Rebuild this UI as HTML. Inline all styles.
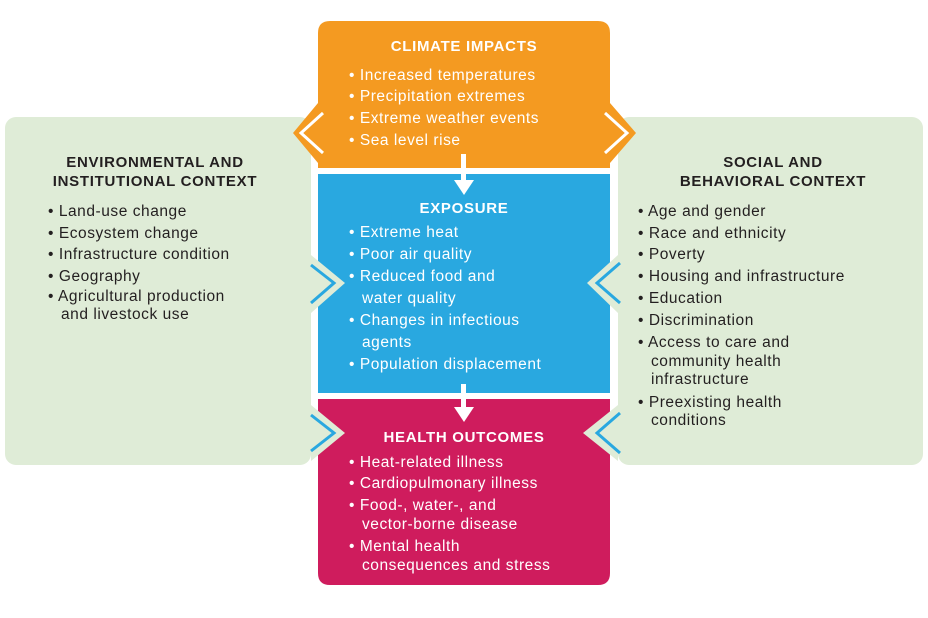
<!DOCTYPE html>
<html><head><meta charset="utf-8"><style>
html,body{margin:0;padding:0;background:#fff;}
svg{display:block;}
text{font-family:"Liberation Sans",sans-serif;}
.h{font-weight:bold;font-size:15px;letter-spacing:0.7px;}
.b{font-size:15.5px;letter-spacing:0.55px;}
.d{fill:#231f20;}
.w{fill:#fff;}
</style></head><body>
<svg width="928" height="618" viewBox="0 0 928 618" xmlns="http://www.w3.org/2000/svg">
<rect x="5" y="117" width="306" height="348" rx="11" fill="#dfecd7"/>
<rect x="618" y="117" width="305" height="348" rx="11" fill="#dfecd7"/>
<path d="M330 21 H598 Q610 21 610 33 V103 L636 133 L610 163 V168 H318 V163 L293 133 L318 103 V33 Q318 21 330 21 Z" fill="#f49a21"/>
<path d="M323 113 L301 133 L323 153" fill="none" stroke="#fff" stroke-width="3"/>
<path d="M605 113 L627 133 L605 153" fill="none" stroke="#fff" stroke-width="3"/>
<rect x="318" y="174" width="292" height="219" fill="#29a8e0"/>
<path d="M318 399 H610 V573 Q610 585 598 585 H330 Q318 585 318 573 Z" fill="#cf1c5d"/>
<path d="M311 255 L345 283 L311 313 Z" fill="#dfecd7"/>
<path d="M311 405 L345 433 L311 461 Z" fill="#dfecd7"/>
<path d="M618 255 L587 283 L618 313 Z" fill="#dfecd7"/>
<path d="M618 405 L583 433 L618 461 Z" fill="#dfecd7"/>
<path d="M311 265 L334 283 L311 303" fill="none" stroke="#29a8e0" stroke-width="3"/>
<path d="M311 415 L334 433 L311 451" fill="none" stroke="#29a8e0" stroke-width="3"/>
<path d="M620 263 L597 283 L620 303" fill="none" stroke="#29a8e0" stroke-width="3"/>
<path d="M620 413 L597 433 L620 453" fill="none" stroke="#29a8e0" stroke-width="3"/>
<rect x="461" y="154" width="5" height="28" fill="#fff"/>
<path d="M454 180 L474 180 L464 195 Z" fill="#fff"/>
<rect x="461" y="384" width="5" height="26" fill="#fff"/>
<path d="M454 407 L474 407 L464 422 Z" fill="#fff"/>
<text class="h w" x="464" y="51" text-anchor="middle">CLIMATE IMPACTS</text>
<g class="b w">
<text x="349" y="80">• Increased temperatures</text>
<text x="349" y="101">• Precipitation extremes</text>
<text x="349" y="123">• Extreme weather events</text>
<text x="349" y="145">• Sea level rise</text>
</g>
<text class="h w" x="464" y="213" text-anchor="middle">EXPOSURE</text>
<g class="b w">
<text x="349" y="237">• Extreme heat</text>
<text x="349" y="259">• Poor air quality</text>
<text x="349" y="281">• Reduced food and</text>
<text x="362" y="303">water quality</text>
<text x="349" y="325">• Changes in infectious</text>
<text x="362" y="347">agents</text>
<text x="349" y="369">• Population displacement</text>
</g>
<text class="h w" x="464" y="442" text-anchor="middle">HEALTH OUTCOMES</text>
<g class="b w">
<text x="349" y="467">• Heat-related illness</text>
<text x="349" y="488">• Cardiopulmonary illness</text>
<text x="349" y="510">• Food-, water-, and</text>
<text x="362" y="529">vector-borne disease</text>
<text x="349" y="551">• Mental health</text>
<text x="362" y="570">consequences and stress</text>
</g>
<text class="h d" x="155" y="167" text-anchor="middle">ENVIRONMENTAL AND</text>
<text class="h d" x="155" y="186" text-anchor="middle">INSTITUTIONAL CONTEXT</text>
<g class="b d">
<text x="48" y="216">• Land-use change</text>
<text x="48" y="238">• Ecosystem change</text>
<text x="48" y="259">• Infrastructure condition</text>
<text x="48" y="281">• Geography</text>
<text x="48" y="301">• Agricultural production</text>
<text x="61" y="319">and livestock use</text>
</g>
<text class="h d" x="773" y="167" text-anchor="middle">SOCIAL AND</text>
<text class="h d" x="773" y="186" text-anchor="middle">BEHAVIORAL CONTEXT</text>
<g class="b d">
<text x="638" y="216">• Age and gender</text>
<text x="638" y="238">• Race and ethnicity</text>
<text x="638" y="259">• Poverty</text>
<text x="638" y="281">• Housing and infrastructure</text>
<text x="638" y="303">• Education</text>
<text x="638" y="325">• Discrimination</text>
<text x="638" y="347">• Access to care and</text>
<text x="651" y="366">community health</text>
<text x="651" y="384">infrastructure</text>
<text x="638" y="407">• Preexisting health</text>
<text x="651" y="425">conditions</text>
</g>
</svg>
</body></html>
